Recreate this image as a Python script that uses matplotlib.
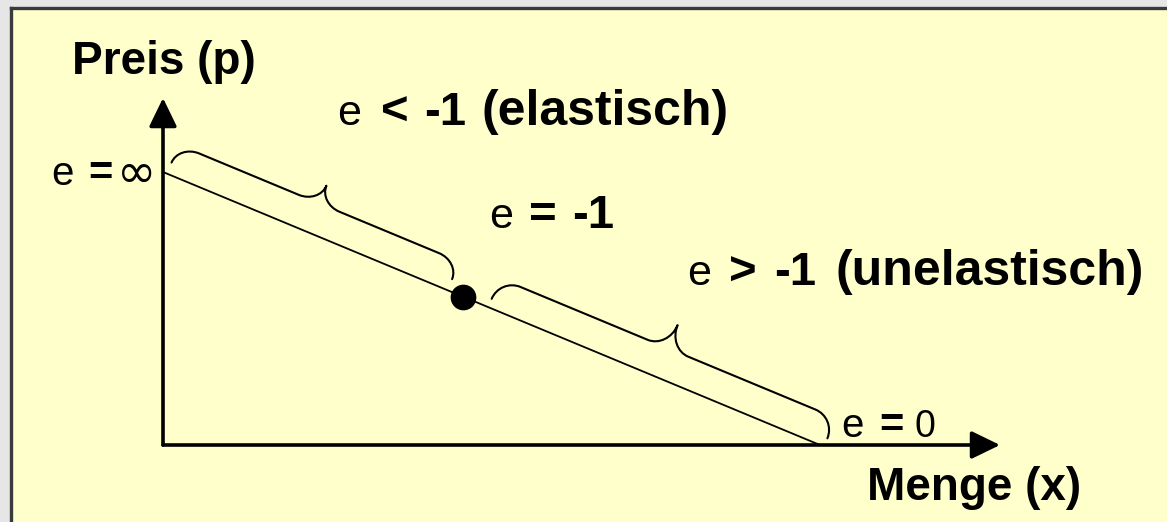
import numpy as np
import matplotlib
matplotlib.use("Agg")
import matplotlib.pyplot as plt
from matplotlib.path import Path
from matplotlib.patches import PathPatch, FancyArrowPatch

# ---------------- data (schematic linear demand curve) ----------------
menge = [0.0, 10.0]          # quantity at price-axis intercept and at x-axis intercept
preis = [10.0, 0.0]          # price at those points
unit_elastic_x = [4.57]      # point with e = -1 (as drawn)
unit_elastic_p = [5.43]
brace_elastic = [0.06, 4.33]     # range of the "elastisch" brace (Menge)
brace_unelastic = [4.95, 10.06]  # range of the "unelastisch" brace (Menge)
axis_max_x = 12.74
axis_max_p = 12.71

# ---------------- layout ----------------
W, H = 1167, 522
ORIG = (163, 445)     # pixel position of origin (from top-left)
SX, SY = 65.7, 27.3   # pixels per unit

fig = plt.figure(figsize=(W / 100, H / 100), dpi=100)
fig.patch.set_facecolor('#e6e6e6')
ax = fig.add_axes([0, 0, 1, 1])
ax.set_zorder(5)
ax.set_xlim(-ORIG[0] / SX, (W - ORIG[0]) / SX)
ax.set_ylim(-(H - ORIG[1]) / SY, ORIG[1] / SY)
ax.axis('off')
ax.patch.set_alpha(0)

def P(x, y):
    """image pixel (from top-left) -> data coords"""
    return tuple(ax.transData.inverted().transform((x, H - y)))

# background panel with dark border at top/left
fig.patches.append(plt.Rectangle((12 / W, -0.1), 1.2, 1.1 - 9 / H, transform=fig.transFigure,
                                 facecolor='#ffffcc', edgecolor='none', zorder=0))
fig.lines.append(plt.Line2D([10.5 / W, 10.5 / W], [-0.1, 1 - 7.5 / H], transform=fig.transFigure,
                            color='#3a3a3a', lw=2.4, zorder=1))
fig.lines.append(plt.Line2D([10.5 / W, 1.1], [1 - 7.5 / H, 1 - 7.5 / H], transform=fig.transFigure,
                            color='#3a3a3a', lw=2.4, zorder=1))

# axes arrows
arrow_style = "-|>,head_length=1.75,head_width=0.85"
ax.add_patch(FancyArrowPatch((0, 0), (0, axis_max_p), arrowstyle=arrow_style, mutation_scale=10,
                             lw=2.6, color='black', shrinkA=0, shrinkB=0, zorder=3))
ax.add_patch(FancyArrowPatch((0, 0), (axis_max_x, 0), arrowstyle=arrow_style, mutation_scale=10,
                             lw=2.6, color='black', shrinkA=0, shrinkB=0, zorder=3))

# demand line
ax.plot(menge, preis, color='black', lw=1.3, zorder=2, solid_capstyle='butt')
# unit elastic point
ax.plot(unit_elastic_x, unit_elastic_p, 'o', color='black', ms=17.5, zorder=4)

def p_of(x):
    return preis[0] + (preis[1] - preis[0]) * (x - menge[0]) / (menge[1] - menge[0])

def brace(x0, x1, t0, t1, tip, r, k=0.55):
    P0 = ax.transData.transform((x0, p_of(x0)))
    P1 = ax.transData.transform((x1, p_of(x1)))
    L = np.hypot(*(P1 - P0))
    u = (P1 - P0) / L
    n = np.array([-u[1], u[0]])
    m = L / 2
    loc = [(0, t0),
           (0, t0 + k * (t1 - t0)), (r - k * r, t1), (r, t1),
           (m - r, t1),
           (m - r + k * r, t1), (m, tip - k * (tip - t1)), (m, tip),
           (m, tip - k * (tip - t1)), (m + r - k * r, t1), (m + r, t1),
           (L - r, t1),
           (L - r + k * r, t1), (L, t0 + k * (t1 - t0)), (L, t0)]
    codes = [Path.MOVETO] + [Path.CURVE4] * 3 + [Path.LINETO] + [Path.CURVE4] * 6 + \
            [Path.LINETO] + [Path.CURVE4] * 3
    disp = [P0 + s * u + t * n for s, t in loc]
    dat = ax.transData.inverted().transform(np.array(disp))
    ax.add_patch(PathPatch(Path(dat, codes), facecolor='none', edgecolor='black', lw=1.5,
                           capstyle='round', joinstyle='round', zorder=3))

brace(brace_elastic[0], brace_elastic[1], 12, 31, 50, 22)
brace(brace_unelastic[0], brace_unelastic[1], 9, 31, 56, 22)

# ---------------- text ----------------
FAM = ['Liberation Sans', 'DejaVu Sans']

def txt(x, y, s, size, bold=True, fam=FAM):
    ax.text(*P(x, y), s, fontsize=size, fontweight='bold' if bold else 'normal',
            family=fam, ha='left', va='baseline', color='black', zorder=5)

txt(72, 74, 'Preis (p)', 33)
txt(867, 500, 'Menge (x)', 33)

# e < -1 (elastisch)
txt(337, 125, 'e', 31, False)
txt(381, 125, '<', 34)
txt(424, 125, '-1', 34)
txt(482, 125, '(elastisch)', 36)
# e = -1
txt(489, 228, 'e', 31, False)
txt(529, 228, '=', 34)
txt(572, 228, '-1', 34)
# e > -1 (unelastisch)
txt(687, 285, 'e', 31, False)
txt(729, 285, '>', 34)
txt(774, 285, '-1', 34)
txt(836, 285, '(unelastisch)', 36)
# e = inf
txt(51, 185, 'e', 29, False)
txt(88, 185, '=', 30)
txt(117, 187, '\u221e', 34, False, ['DejaVu Sans'])
# e = 0
txt(841, 437, 'e', 29, False)
txt(879, 437, '=', 30)
txt(915, 437, '0', 27, False)

fig.savefig('out.png', dpi=100, facecolor=fig.get_facecolor())
